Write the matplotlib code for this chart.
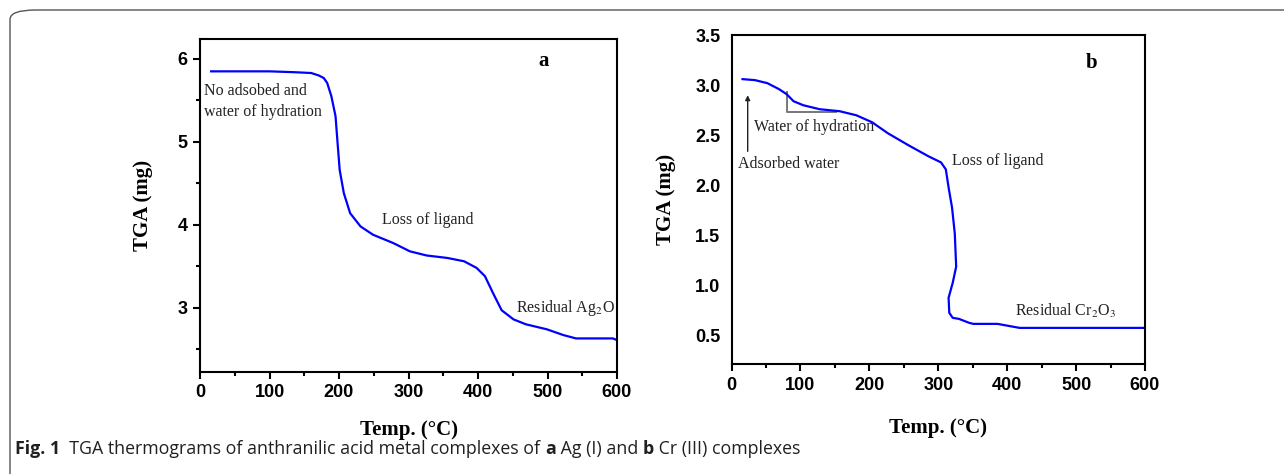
import matplotlib
matplotlib.use("Agg")
import matplotlib.pyplot as plt
from matplotlib.patches import FancyBboxPatch
from matplotlib.ticker import MultipleLocator

# ---------------- data ----------------
a_temp = [16, 100, 135, 160, 171, 178, 183, 189, 195, 198, 201, 207, 216, 231, 249,
          278, 302, 326, 356, 380, 398, 410, 422, 434, 451, 469, 499, 523, 541, 594, 600]
a_mass = [5.85, 5.85, 5.84, 5.83, 5.80, 5.77, 5.71, 5.55, 5.31, 4.98, 4.66, 4.38, 4.14,
          3.98, 3.88, 3.78, 3.68, 3.63, 3.60, 3.56, 3.48, 3.38, 3.17, 2.97, 2.86, 2.80,
          2.74, 2.67, 2.63, 2.63, 2.61]

b_temp = [16, 34, 52, 69, 80, 90, 104, 128, 157, 181, 204, 227, 257, 286, 304, 311, 315,
          320, 324, 326, 321, 315, 316, 321, 330, 345, 351, 386, 418, 600]
b_mass = [3.06, 3.05, 3.02, 2.96, 2.91, 2.84, 2.80, 2.76, 2.74, 2.70, 2.63, 2.52, 2.40,
          2.29, 2.23, 2.16, 1.98, 1.78, 1.52, 1.19, 1.03, 0.88, 0.73, 0.68, 0.67, 0.63,
          0.62, 0.62, 0.58, 0.58]

x_ticks = [0, 100, 200, 300, 400, 500, 600]
a_yticks = [3, 4, 5, 6]
b_yticks = [0.5, 1.0, 1.5, 2.0, 2.5, 3.0, 3.5]
b_yticklabels = ["0.5", "1.0", "1.5", "2.0", "2.5", "3.0", "3.5"]

xlabel = "Temp. (°C)"
ylabel = "TGA (mg)"

cap_pieces = [
    ("Fig. 1", "bold"),
    ("  TGA thermograms of anthranilic acid metal complexes of ", "normal"),
    ("a", "bold"),
    (" Ag (I) and ", "normal"),
    ("b", "bold"),
    (" Cr (III) complexes", "normal"),
]

# ---------------- style ----------------
plt.rcParams["mathtext.fontset"] = "stix"
SERIF = "Liberation Serif"
SANS = "Liberation Sans"
CAP_FONT = "Open Sans"
BLUE = "#0000ff"

W, H = 1284, 474
fig = plt.figure(figsize=(W / 100, H / 100), dpi=100)


def px_axes(l, t, r, b):
    return fig.add_axes([l / W, 1 - b / H, (r - l) / W, (b - t) / H])


def style_axes(ax, yticks, ylabels, ylim, ytick_len, yminor):
    ax.set_xlim(0, 600)
    ax.set_ylim(*ylim)
    for s in ax.spines.values():
        s.set_linewidth(1.5)
    ax.set_xticks(x_ticks)
    ax.xaxis.set_minor_locator(MultipleLocator(50))
    ax.set_yticks(yticks)
    ax.set_yticklabels(ylabels)
    if yminor:
        ax.yaxis.set_minor_locator(MultipleLocator(yminor))
    ax.tick_params(axis="x", which="major", direction="out", length=5, width=1.5, pad=4)
    ax.tick_params(axis="x", which="minor", direction="out", length=3, width=1.5)
    ax.tick_params(axis="y", which="major", direction="out", length=ytick_len, width=1.5,
                   pad=4 if ytick_len else 8)
    ax.tick_params(axis="y", which="minor", direction="out", length=3 if ytick_len else 0,
                   width=1.5)
    for lab in ax.get_xticklabels() + ax.get_yticklabels():
        lab.set_fontfamily(SANS)
        lab.set_fontweight("bold")
        lab.set_fontsize(13)


tk = dict(fontfamily=SERIF, fontsize=11.5, color="#222222")

# ---------------- panel a ----------------
axa = px_axes(200, 39, 617, 371.6)
axa.plot(a_temp, a_mass, color=BLUE, lw=1.6)
style_axes(axa, a_yticks, [str(v) for v in a_yticks], (2.23, 6.24), 5, 0.5)
axa.set_xlabel(xlabel, fontfamily=SERIF, fontweight="bold", fontsize=15)
axa.set_ylabel(ylabel, fontfamily=SERIF, fontweight="bold", fontsize=15)
axa.xaxis.set_label_coords(0.5, -0.145)
axa.yaxis.set_label_coords(-0.113, 0.5)

axa.text(495, 5.98, "a", fontfamily=SERIF, fontweight="bold", fontsize=15, ha="center", va="center")
axa.text(6, 5.61, "No adsobed and", ha="left", va="center", **tk)
axa.text(6, 5.36, "water of hydration", ha="left", va="center", **tk)
axa.text(262, 4.06, "Loss of ligand", ha="left", va="center", **tk)
axa.text(454, 3.00, r"Residual Ag$_{\mathrm{2}}$O", ha="left", va="center", **tk)

# ---------------- panel b ----------------
axb = px_axes(731.5, 35, 1145, 364)
axb.plot(b_temp, b_mass, color=BLUE, lw=1.6)
style_axes(axb, b_yticks, b_yticklabels, (0.22, 3.5), 0, None)
axb.set_xlabel(xlabel, fontfamily=SERIF, fontweight="bold", fontsize=15)
axb.set_ylabel(ylabel, fontfamily=SERIF, fontweight="bold", fontsize=15)
axb.xaxis.set_label_coords(0.5, -0.164)
axb.yaxis.set_label_coords(-0.134, 0.5)

axb.text(523, 3.22, "b", fontfamily=SERIF, fontweight="bold", fontsize=15, ha="center", va="center")
axb.text(33, 2.58, "Water of hydration", ha="left", va="center", **tk)
axb.text(9.4, 2.21, "Adsorbed water", ha="left", va="center", **tk)
axb.text(320, 2.24, "Loss of ligand", ha="left", va="center", **tk)
axb.text(412, 0.75, r"Residual Cr$_{\mathrm{2}}$O$_{\mathrm{3}}$", ha="left", va="center", **tk)
axb.annotate("", xy=(23.5, 2.90), xytext=(23.5, 2.34),
             arrowprops=dict(arrowstyle="-|>", color="#222222", lw=1.0,
                             mutation_scale=7, shrinkA=0, shrinkB=0))
axb.plot([80, 80, 151], [2.93, 2.73, 2.73], color="#777777", lw=1.4, zorder=1)

# ---------------- frame and caption ----------------
border = FancyBboxPatch((10 / W, -0.2), 1.2, 1 - 10 / H + 0.2,
                        boxstyle="round,pad=0,rounding_size=0.02",
                        transform=fig.transFigure, fill=False,
                        edgecolor="#555555", lw=1.0, clip_on=False)
fig.patches.append(border)

prev_art = fig.text(15 / W, 1 - 458 / H, cap_pieces[0][0], fontfamily=CAP_FONT,
                    fontweight=cap_pieces[0][1], fontsize=12.8, ha="left",
                    va="bottom", color="#231f20")
for txt, wt in cap_pieces[1:]:
    prev_art = fig.text(0, 0, "")  if False else plt.annotate(
        txt, xy=(1, 0), xycoords=prev_art, xytext=(0, 0),
        textcoords="offset points", ha="left", va="bottom",
        fontfamily=CAP_FONT, fontweight=wt, fontsize=12.8,
        color="#231f20", annotation_clip=False)

fig.savefig("out.png", dpi=100)
